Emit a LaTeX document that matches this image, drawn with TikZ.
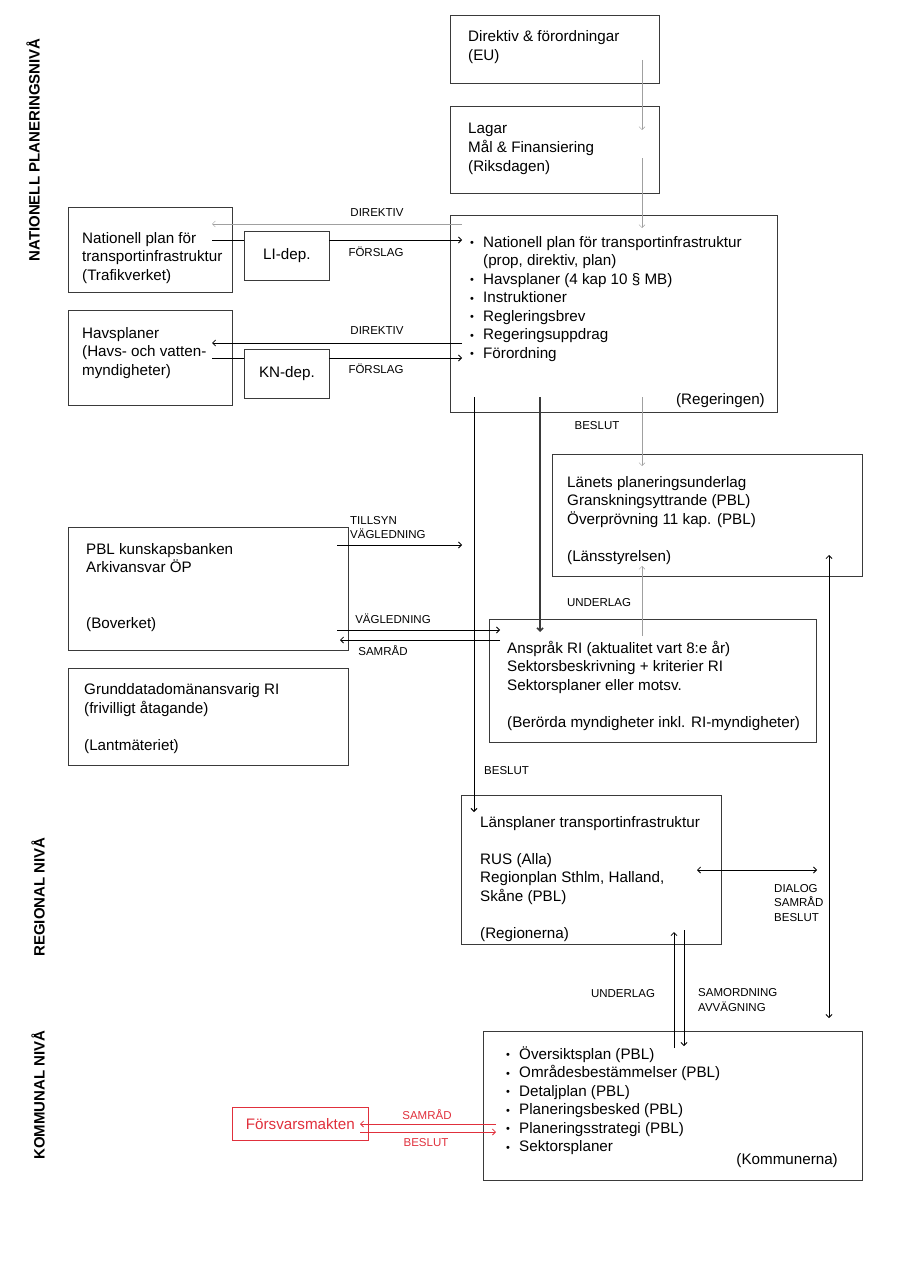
\documentclass[tikz,border=0pt]{standalone}
\usepackage{fontspec}
\setmainfont{Liberation Sans}
\usetikzlibrary{arrows.meta, positioning}
\definecolor{mred}{HTML}{E0303C}
\definecolor{mgray}{HTML}{A0A0A0}
\definecolor{mline}{HTML}{3A3A3A}
\newcommand{\maintext}{\fontsize{15.2}{18.5}\selectfont}
\newcommand{\lbltext}{\fontsize{11.5}{14}\selectfont}
\newcommand{\blt}{\makebox[13pt][l]{\raisebox{0.5pt}{\fontsize{11}{11}\selectfont\textbullet}}}
\newcommand{\nob}{\makebox[13pt]{}}
\tikzstyle{box} = [draw=mline, line width=0.8pt, anchor=north west, inner sep=0pt, font=\maintext]
\tikzstyle{txt} = [anchor=base west, align=left, inner sep=0pt, font=\maintext]
\tikzstyle{lbl} = [anchor=base, align=left, inner sep=0pt, font=\lbltext]
\tikzstyle{side} = [rotate=90, inner sep=0pt, font=\fontsize{15}{15}\selectfont\bfseries]
\tikzstyle{cable} = [line width=0.8pt, ->, >={Straight Barb[length=3pt,width=6pt]}]
\tikzstyle{hair} = [mgray, line width=0.5pt, ->, >={Straight Barb[length=3pt,width=6pt]}]

\begin{document}
\begin{tikzpicture}[x=1pt, y=-1pt]
\useasboundingbox (0,0) rectangle (901,1271);
%Levels
\node (nat) [side] at (33,150) {NATIONELL PLANERINGSNIVÅ};
\node (reglev) [side] at (38,897) {REGIONAL NIVÅ};
\node (komlev) [side] at (38,1095) {KOMMUNAL NIVÅ};
%Boxes
\node (eu) [box, minimum width=209pt, minimum height=68pt] at (450,15) {};
\node (riks) [box, minimum width=209pt, minimum height=87pt] at (450,106) {};
\node (reg) [box, minimum width=327pt, minimum height=197pt] at (450,215) {};
\node (traf) [box, minimum width=164pt, minimum height=85pt] at (68,207) {};
\node (lidep) [box, minimum width=85pt, minimum height=49pt] at (244,231) {LI-dep.};
\node (havs) [box, minimum width=164pt, minimum height=95pt] at (68,310) {};
\node (kndep) [box, minimum width=85pt, minimum height=49pt] at (244,349) {KN-dep.};
\node (lans) [box, minimum width=310pt, minimum height=122pt] at (552,454) {};
\node (bov) [box, minimum width=280pt, minimum height=123pt] at (68,527) {};
\node (beror) [box, minimum width=327pt, minimum height=123pt] at (489,619) {};
\node (lant) [box, minimum width=280pt, minimum height=97pt] at (68,668) {};
\node (regn) [box, minimum width=260pt, minimum height=149pt] at (461,795) {};
\node (komm) [box, minimum width=379pt, minimum height=149pt] at (483,1031) {};
\node (forsv) [box, draw=mred, text=mred, minimum width=136pt, minimum height=33pt] at (232,1107) {Försvarsmakten};
%Texts (placed at the baseline of their last line)
\node (eu-t) [txt] at (468,60.5) {Direktiv \& förordningar\\(EU)};
\node (riks-t) [txt] at (468,171) {Lagar\\Mål \& Finansiering\\(Riksdagen)};
\node (reg-t) [txt] at (470,358) {\blt Nationell plan för transportinfrastruktur\\\nob(prop, direktiv, plan)\\\blt Havsplaner (4 kap 10 § MB)\\\blt Instruktioner\\\blt Regleringsbrev\\\blt Regeringsuppdrag\\\blt Förordning};
\node (reg-n) [txt, anchor=base east] at (765,404) {(Regeringen)};
\node (traf-t) [txt] at (82,280) {Nationell plan för\\transportinfrastruktur\\(Trafikverket)};
\node (havs-t) [txt] at (82,375) {Havsplaner\\(Havs- och vatten-\\myndigheter)};
\node (lans-t) [txt] at (567,561) {Länets planeringsunderlag\\Granskningsyttrande (PBL)\\Överprövning 11 kap. (PBL)\\[18.5pt](Länsstyrelsen)};
\node (bov-t) [txt] at (86,628) {PBL kunskapsbanken\\Arkivansvar ÖP\\[37pt](Boverket)};
\node (beror-t) [txt] at (507,727) {Anspråk RI (aktualitet vart 8:e år)\\Sektorsbeskrivning + kriterier RI\\Sektorsplaner eller motsv.\\[18.5pt](Berörda myndigheter inkl. RI-myndigheter)};
\node (lant-t) [txt] at (84,750) {Grunddatadomänansvarig RI\\(frivilligt åtagande)\\[18.5pt](Lantmäteriet)};
\node (regn-t) [txt] at (480,938) {Länsplaner transportinfrastruktur\\[18.5pt]RUS (Alla)\\Regionplan Sthlm, Halland,\\Skåne (PBL)\\[18.5pt](Regionerna)};
\node (komm-t) [txt] at (506,1151.5) {\blt Översiktsplan (PBL)\\\blt Områdesbestämmelser (PBL)\\\blt Detaljplan (PBL)\\\blt Planeringsbesked (PBL)\\\blt Planeringsstrategi (PBL)\\\blt Sektorsplaner};
\node (komm-n) [txt, anchor=base east] at (838,1164) {(Kommunerna)};
%Free ends
\coordinate (tsend) at (462,545);
\coordinate (dlend) at (817,870);
%Connectors
\draw [hair] ([shift={(192,45)}]eu.north west) -- ([shift={(192,24)}]riks.north west);
\draw [hair] ([shift={(192,52)}]riks.north west) -- ([shift={(192,13)}]reg.north west);
\draw [hair] ([shift={(12,9)}]reg.north west) -- ([shift={(144,17)}]traf.north west);
\draw [cable, -] ([shift={(144,33)}]traf.north west) -- ([shift={(0,9)}]lidep.north west);
\draw [cable] ([shift={(85,9)}]lidep.north west) -- ([shift={(12,25)}]reg.north west);
\draw [cable] ([shift={(12,128)}]reg.north west) -- ([shift={(144,33)}]havs.north west);
\draw [cable, -] ([shift={(144,48)}]havs.north west) -- ([shift={(0,9)}]kndep.north west);
\draw [cable] ([shift={(85,9)}]kndep.north west) -- ([shift={(12,143)}]reg.north west);
\draw [cable, line width=1pt] ([shift={(24,182)}]reg.north west) -- ([shift={(13,17)}]regn.north west);
\draw [cable, mline, line width=1.6pt] ([shift={(90,182)}]reg.north west) -- ([shift={(51,13)}]beror.north west);
\draw [hair] ([shift={(192,182)}]reg.north west) -- ([shift={(90,12)}]lans.north west);
\draw [hair] ([shift={(153,17)}]beror.north west) -- ([shift={(90,112)}]lans.north west);
\draw [cable] ([shift={(269,18)}]bov.north west) -- (tsend);
\draw [cable] ([shift={(269,103)}]bov.north west) -- ([shift={(11,11)}]beror.north west);
\draw [cable] ([shift={(11,21)}]beror.north west) -- ([shift={(272,113)}]bov.north west);
\draw [cable, <->] ([shift={(277,101)}]lans.north west) -- ([shift={(346,-13)}]komm.north west);
\draw [cable, <->] ([shift={(236,75)}]regn.north west) -- (dlend);
\draw [cable] ([shift={(191,17)}]komm.north west) -- ([shift={(213,137)}]regn.north west);
\draw [cable] ([shift={(223,135)}]regn.north west) -- ([shift={(201,15)}]komm.north west);
\draw [cable, mred] ([shift={(13,93)}]komm.north west) -- ([shift={(128,17)}]forsv.north west);
\draw [cable, mred] ([shift={(128,25)}]forsv.north west) -- ([shift={(13,101)}]komm.north west);
%Labels
\node [lbl] at (377,216) {DIREKTIV};
\node [lbl] at (376,256) {FÖRSLAG};
\node [lbl] at (377,334) {DIREKTIV};
\node [lbl] at (376,373) {FÖRSLAG};
\node [lbl] at (597,429) {BESLUT};
\node [lbl, anchor=base west] at (350,538) {TILLSYN\\VÄGLEDNING};
\node [lbl] at (393,623) {VÄGLEDNING};
\node [lbl] at (383,655) {SAMRÅD};
\node [lbl] at (599,606) {UNDERLAG};
\node [lbl, anchor=base west] at (484,774) {BESLUT};
\node [lbl, anchor=base west, font=\fontsize{11.5}{14.5}\selectfont] at (774,921) {DIALOG\\SAMRÅD\\BESLUT};
\node [lbl] at (623,997) {UNDERLAG};
\node [lbl, anchor=base west, font=\fontsize{11.5}{15}\selectfont] at (698,1011) {SAMORDNING\\AVVÄGNING};
\node [lbl, mred] at (427,1119) {SAMRÅD};
\node [lbl, mred] at (426,1146) {BESLUT};
\end{tikzpicture}
\end{document}
